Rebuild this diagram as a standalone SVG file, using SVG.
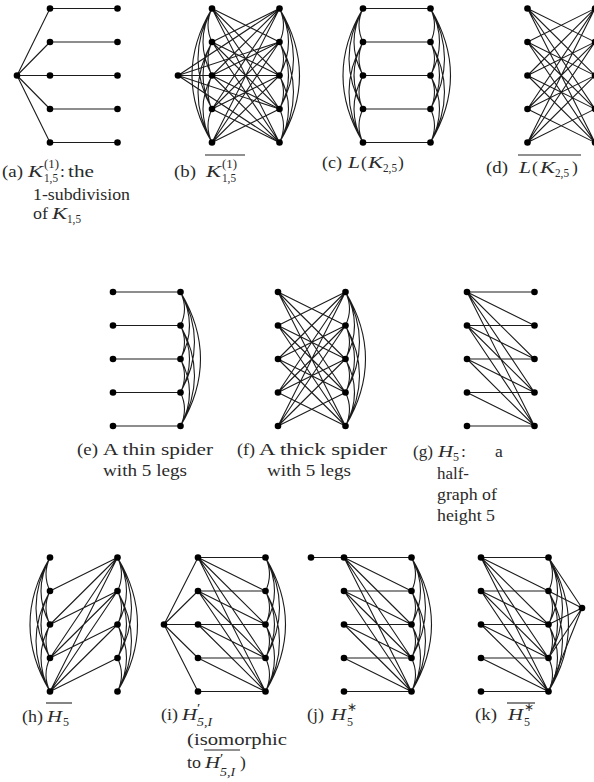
<svg xmlns="http://www.w3.org/2000/svg" xmlns:xlink="http://www.w3.org/1999/xlink" width="594" height="782" viewBox="0 0 594 782">
<style>
.e{fill:none;stroke:#1c1c1c;stroke-width:1.1}
.n{fill:#000}
.ov{stroke:#222;stroke-width:1.1}
text{font-family:"Liberation Serif","Times New Roman",serif;font-size:17.5px;fill:#2a2a2a}
.it{font-style:italic}
.s{font-size:12px}
.pr{font-size:12px;font-weight:bold}
</style>
<defs>
<path id="hor" class="e" d="M0 0H67.5M0 33.5H67.5M0 67H67.5M0 100.5H67.5M0 134H67.5"/>
<path id="cross" class="e" d="M0 0L67.5 33.5M0 0L67.5 67M0 0L67.5 100.5M0 0L67.5 134M0 33.5L67.5 0M0 33.5L67.5 67M0 33.5L67.5 100.5M0 33.5L67.5 134M0 67L67.5 0M0 67L67.5 33.5M0 67L67.5 100.5M0 67L67.5 134M0 100.5L67.5 0M0 100.5L67.5 33.5M0 100.5L67.5 67M0 100.5L67.5 134M0 134L67.5 0M0 134L67.5 33.5M0 134L67.5 67M0 134L67.5 100.5"/>
<path id="halfup" class="e" d="M0 0L67.5 33.5M0 0L67.5 67M0 0L67.5 100.5M0 0L67.5 134M0 33.5L67.5 67M0 33.5L67.5 100.5M0 33.5L67.5 134M0 67L67.5 100.5M0 67L67.5 134M0 100.5L67.5 134"/>
<path id="halflow" class="e" d="M0 33.5L67.5 0M0 67L67.5 0M0 67L67.5 33.5M0 100.5L67.5 0M0 100.5L67.5 33.5M0 100.5L67.5 67M0 134L67.5 0M0 134L67.5 33.5M0 134L67.5 67M0 134L67.5 100.5"/>
<path id="k5" class="e" d="M0 0Q8 16.75 0 33.5M0 33.5Q8 50.25 0 67M0 67Q8 83.75 0 100.5M0 100.5Q8 117.25 0 134M0 0Q18 33.5 0 67M0 33.5Q18 67 0 100.5M0 67Q18 100.5 0 134M0 0Q28 50.25 0 100.5M0 33.5Q28 83.75 0 134M0 0Q40 67 0 134"/>
</defs>

<!-- connectors -->
<g id="connectors">
<g id="a-edges"><use xlink:href="#hor" x="50" y="8.5"/><path class="e" d="M17 75.5L50 8.5M17 75.5L50 42M17 75.5L50 75.5M17 75.5L50 109M17 75.5L50 142.5"/></g>
<g id="b-edges"><use xlink:href="#cross" x="212" y="8.5"/><use xlink:href="#k5" transform="translate(212 8.5) scale(-1 1)"/><use xlink:href="#k5" transform="translate(279.5 8.5)"/><path class="e" d="M178 75.5L279.5 8.5M178 75.5L279.5 42M178 75.5L279.5 75.5M178 75.5L279.5 109M178 75.5L279.5 142.5"/></g>
<g id="c-edges"><use xlink:href="#hor" x="363" y="8.5"/><use xlink:href="#k5" transform="translate(363 8.5) scale(-1 1)"/><use xlink:href="#k5" transform="translate(430.5 8.5)"/></g>
<g id="d-edges"><use xlink:href="#cross" x="527.5" y="8.5"/></g>
<g id="e-edges"><use xlink:href="#hor" x="113" y="292"/><use xlink:href="#k5" transform="translate(180.5 292)"/></g>
<g id="f-edges"><use xlink:href="#cross" x="278" y="292"/><use xlink:href="#k5" transform="translate(345.5 292)"/></g>
<g id="g-edges"><use xlink:href="#hor" x="467" y="292"/><use xlink:href="#halfup" x="467" y="292"/></g>
<g id="h-edges"><use xlink:href="#halflow" x="50" y="557.5"/><use xlink:href="#k5" transform="translate(50 557.5) scale(-1 1)"/><use xlink:href="#k5" transform="translate(117.5 557.5)"/></g>
<g id="i-edges"><use xlink:href="#hor" x="198" y="557.5"/><use xlink:href="#halfup" x="198" y="557.5"/><use xlink:href="#k5" transform="translate(265.5 557.5)"/><path class="e" d="M164 624.5L198 557.5M164 624.5L198 591M164 624.5L198 624.5M164 624.5L198 658M164 624.5L198 691.5"/></g>
<g id="j-edges"><use xlink:href="#hor" x="344" y="557.5"/><use xlink:href="#halfup" x="344" y="557.5"/><use xlink:href="#k5" transform="translate(411.5 557.5)"/><path class="e" d="M311 557.5H344"/></g>
<g id="k-edges"><use xlink:href="#hor" x="481" y="557.5"/><use xlink:href="#halfup" x="481" y="557.5"/><use xlink:href="#k5" transform="translate(548.5 557.5)"/><path class="e" d="M582 608L548.5 557.5M582 608L548.5 591M582 608L548.5 624.5M582 608L548.5 658M582 608L548.5 691.5"/></g>
</g>

<!-- nodes -->
<g id="a-c"><circle class="n" cx="17" cy="75.5" r="3.3"/></g>
<g id="a-L1"><circle class="n" cx="50" cy="8.5" r="3.3"/></g>
<g id="a-L2"><circle class="n" cx="50" cy="42" r="3.3"/></g>
<g id="a-L3"><circle class="n" cx="50" cy="75.5" r="3.3"/></g>
<g id="a-L4"><circle class="n" cx="50" cy="109" r="3.3"/></g>
<g id="a-L5"><circle class="n" cx="50" cy="142.5" r="3.3"/></g>
<g id="a-R1"><circle class="n" cx="117.5" cy="8.5" r="3.3"/></g>
<g id="a-R2"><circle class="n" cx="117.5" cy="42" r="3.3"/></g>
<g id="a-R3"><circle class="n" cx="117.5" cy="75.5" r="3.3"/></g>
<g id="a-R4"><circle class="n" cx="117.5" cy="109" r="3.3"/></g>
<g id="a-R5"><circle class="n" cx="117.5" cy="142.5" r="3.3"/></g>

<g id="b-c"><circle class="n" cx="178" cy="75.5" r="3.3"/></g>
<g id="b-L1"><circle class="n" cx="212" cy="8.5" r="3.3"/></g>
<g id="b-L2"><circle class="n" cx="212" cy="42" r="3.3"/></g>
<g id="b-L3"><circle class="n" cx="212" cy="75.5" r="3.3"/></g>
<g id="b-L4"><circle class="n" cx="212" cy="109" r="3.3"/></g>
<g id="b-L5"><circle class="n" cx="212" cy="142.5" r="3.3"/></g>
<g id="b-R1"><circle class="n" cx="279.5" cy="8.5" r="3.3"/></g>
<g id="b-R2"><circle class="n" cx="279.5" cy="42" r="3.3"/></g>
<g id="b-R3"><circle class="n" cx="279.5" cy="75.5" r="3.3"/></g>
<g id="b-R4"><circle class="n" cx="279.5" cy="109" r="3.3"/></g>
<g id="b-R5"><circle class="n" cx="279.5" cy="142.5" r="3.3"/></g>

<g id="c-L1"><circle class="n" cx="363" cy="8.5" r="3.3"/></g>
<g id="c-L2"><circle class="n" cx="363" cy="42" r="3.3"/></g>
<g id="c-L3"><circle class="n" cx="363" cy="75.5" r="3.3"/></g>
<g id="c-L4"><circle class="n" cx="363" cy="109" r="3.3"/></g>
<g id="c-L5"><circle class="n" cx="363" cy="142.5" r="3.3"/></g>
<g id="c-R1"><circle class="n" cx="430.5" cy="8.5" r="3.3"/></g>
<g id="c-R2"><circle class="n" cx="430.5" cy="42" r="3.3"/></g>
<g id="c-R3"><circle class="n" cx="430.5" cy="75.5" r="3.3"/></g>
<g id="c-R4"><circle class="n" cx="430.5" cy="109" r="3.3"/></g>
<g id="c-R5"><circle class="n" cx="430.5" cy="142.5" r="3.3"/></g>

<g id="d-L1"><circle class="n" cx="527.5" cy="8.5" r="3.3"/></g>
<g id="d-L2"><circle class="n" cx="527.5" cy="42" r="3.3"/></g>
<g id="d-L3"><circle class="n" cx="527.5" cy="75.5" r="3.3"/></g>
<g id="d-L4"><circle class="n" cx="527.5" cy="109" r="3.3"/></g>
<g id="d-L5"><circle class="n" cx="527.5" cy="142.5" r="3.3"/></g>
<g id="d-R1"><circle class="n" cx="595" cy="8.5" r="3.3"/></g>
<g id="d-R2"><circle class="n" cx="595" cy="42" r="3.3"/></g>
<g id="d-R3"><circle class="n" cx="595" cy="75.5" r="3.3"/></g>
<g id="d-R4"><circle class="n" cx="595" cy="109" r="3.3"/></g>
<g id="d-R5"><circle class="n" cx="595" cy="142.5" r="3.3"/></g>

<g id="e-L1"><circle class="n" cx="113" cy="292" r="3.3"/></g>
<g id="e-L2"><circle class="n" cx="113" cy="325.5" r="3.3"/></g>
<g id="e-L3"><circle class="n" cx="113" cy="359" r="3.3"/></g>
<g id="e-L4"><circle class="n" cx="113" cy="392.5" r="3.3"/></g>
<g id="e-L5"><circle class="n" cx="113" cy="426" r="3.3"/></g>
<g id="e-R1"><circle class="n" cx="180.5" cy="292" r="3.3"/></g>
<g id="e-R2"><circle class="n" cx="180.5" cy="325.5" r="3.3"/></g>
<g id="e-R3"><circle class="n" cx="180.5" cy="359" r="3.3"/></g>
<g id="e-R4"><circle class="n" cx="180.5" cy="392.5" r="3.3"/></g>
<g id="e-R5"><circle class="n" cx="180.5" cy="426" r="3.3"/></g>

<g id="f-L1"><circle class="n" cx="278" cy="292" r="3.3"/></g>
<g id="f-L2"><circle class="n" cx="278" cy="325.5" r="3.3"/></g>
<g id="f-L3"><circle class="n" cx="278" cy="359" r="3.3"/></g>
<g id="f-L4"><circle class="n" cx="278" cy="392.5" r="3.3"/></g>
<g id="f-L5"><circle class="n" cx="278" cy="426" r="3.3"/></g>
<g id="f-R1"><circle class="n" cx="345.5" cy="292" r="3.3"/></g>
<g id="f-R2"><circle class="n" cx="345.5" cy="325.5" r="3.3"/></g>
<g id="f-R3"><circle class="n" cx="345.5" cy="359" r="3.3"/></g>
<g id="f-R4"><circle class="n" cx="345.5" cy="392.5" r="3.3"/></g>
<g id="f-R5"><circle class="n" cx="345.5" cy="426" r="3.3"/></g>

<g id="g-L1"><circle class="n" cx="467" cy="292" r="3.3"/></g>
<g id="g-L2"><circle class="n" cx="467" cy="325.5" r="3.3"/></g>
<g id="g-L3"><circle class="n" cx="467" cy="359" r="3.3"/></g>
<g id="g-L4"><circle class="n" cx="467" cy="392.5" r="3.3"/></g>
<g id="g-L5"><circle class="n" cx="467" cy="426" r="3.3"/></g>
<g id="g-R1"><circle class="n" cx="534.5" cy="292" r="3.3"/></g>
<g id="g-R2"><circle class="n" cx="534.5" cy="325.5" r="3.3"/></g>
<g id="g-R3"><circle class="n" cx="534.5" cy="359" r="3.3"/></g>
<g id="g-R4"><circle class="n" cx="534.5" cy="392.5" r="3.3"/></g>
<g id="g-R5"><circle class="n" cx="534.5" cy="426" r="3.3"/></g>

<g id="h-L1"><circle class="n" cx="50" cy="557.5" r="3.3"/></g>
<g id="h-L2"><circle class="n" cx="50" cy="591" r="3.3"/></g>
<g id="h-L3"><circle class="n" cx="50" cy="624.5" r="3.3"/></g>
<g id="h-L4"><circle class="n" cx="50" cy="658" r="3.3"/></g>
<g id="h-L5"><circle class="n" cx="50" cy="691.5" r="3.3"/></g>
<g id="h-R1"><circle class="n" cx="117.5" cy="557.5" r="3.3"/></g>
<g id="h-R2"><circle class="n" cx="117.5" cy="591" r="3.3"/></g>
<g id="h-R3"><circle class="n" cx="117.5" cy="624.5" r="3.3"/></g>
<g id="h-R4"><circle class="n" cx="117.5" cy="658" r="3.3"/></g>
<g id="h-R5"><circle class="n" cx="117.5" cy="691.5" r="3.3"/></g>

<g id="i-c"><circle class="n" cx="164" cy="624.5" r="3.3"/></g>
<g id="i-L1"><circle class="n" cx="198" cy="557.5" r="3.3"/></g>
<g id="i-L2"><circle class="n" cx="198" cy="591" r="3.3"/></g>
<g id="i-L3"><circle class="n" cx="198" cy="624.5" r="3.3"/></g>
<g id="i-L4"><circle class="n" cx="198" cy="658" r="3.3"/></g>
<g id="i-L5"><circle class="n" cx="198" cy="691.5" r="3.3"/></g>
<g id="i-R1"><circle class="n" cx="265.5" cy="557.5" r="3.3"/></g>
<g id="i-R2"><circle class="n" cx="265.5" cy="591" r="3.3"/></g>
<g id="i-R3"><circle class="n" cx="265.5" cy="624.5" r="3.3"/></g>
<g id="i-R4"><circle class="n" cx="265.5" cy="658" r="3.3"/></g>
<g id="i-R5"><circle class="n" cx="265.5" cy="691.5" r="3.3"/></g>

<g id="j-p"><circle class="n" cx="311" cy="557.5" r="3.3"/></g>
<g id="j-L1"><circle class="n" cx="344" cy="557.5" r="3.3"/></g>
<g id="j-L2"><circle class="n" cx="344" cy="591" r="3.3"/></g>
<g id="j-L3"><circle class="n" cx="344" cy="624.5" r="3.3"/></g>
<g id="j-L4"><circle class="n" cx="344" cy="658" r="3.3"/></g>
<g id="j-L5"><circle class="n" cx="344" cy="691.5" r="3.3"/></g>
<g id="j-R1"><circle class="n" cx="411.5" cy="557.5" r="3.3"/></g>
<g id="j-R2"><circle class="n" cx="411.5" cy="591" r="3.3"/></g>
<g id="j-R3"><circle class="n" cx="411.5" cy="624.5" r="3.3"/></g>
<g id="j-R4"><circle class="n" cx="411.5" cy="658" r="3.3"/></g>
<g id="j-R5"><circle class="n" cx="411.5" cy="691.5" r="3.3"/></g>

<g id="k-L1"><circle class="n" cx="481" cy="557.5" r="3.3"/></g>
<g id="k-L2"><circle class="n" cx="481" cy="591" r="3.3"/></g>
<g id="k-L3"><circle class="n" cx="481" cy="624.5" r="3.3"/></g>
<g id="k-L4"><circle class="n" cx="481" cy="658" r="3.3"/></g>
<g id="k-L5"><circle class="n" cx="481" cy="691.5" r="3.3"/></g>
<g id="k-R1"><circle class="n" cx="548.5" cy="557.5" r="3.3"/></g>
<g id="k-R2"><circle class="n" cx="548.5" cy="591" r="3.3"/></g>
<g id="k-R3"><circle class="n" cx="548.5" cy="624.5" r="3.3"/></g>
<g id="k-R4"><circle class="n" cx="548.5" cy="658" r="3.3"/></g>
<g id="k-R5"><circle class="n" cx="548.5" cy="691.5" r="3.3"/></g>
<g id="k-q"><circle class="n" cx="582" cy="608" r="3.3"/></g>

<!-- captions -->
<g id="cap-a">
<text x="2" y="177" textLength="21" lengthAdjust="spacingAndGlyphs">(a)</text>
<text class="it" x="28" y="177" textLength="15" lengthAdjust="spacingAndGlyphs">K</text>
<text class="s" x="44" y="168" textLength="15" lengthAdjust="spacingAndGlyphs">(1)</text>
<text class="s" x="44" y="181.5" textLength="14" lengthAdjust="spacingAndGlyphs">1,5</text>
<text x="60" y="177">:</text>
<text x="68" y="177" textLength="26" lengthAdjust="spacingAndGlyphs">the</text>
<text x="33" y="200" textLength="97" lengthAdjust="spacingAndGlyphs">1-subdivision</text>
<text x="33" y="219" textLength="15" lengthAdjust="spacingAndGlyphs">of</text>
<text class="it" x="52" y="219" textLength="15" lengthAdjust="spacingAndGlyphs">K</text>
<text class="s" x="67" y="223" textLength="14" lengthAdjust="spacingAndGlyphs">1,5</text>
</g>
<g id="cap-b">
<text x="174" y="177" textLength="22" lengthAdjust="spacingAndGlyphs">(b)</text>
<line class="ov" x1="205" y1="155" x2="245" y2="155"/>
<text class="it" x="206" y="177" textLength="15" lengthAdjust="spacingAndGlyphs">K</text>
<text class="s" x="222" y="168" textLength="15" lengthAdjust="spacingAndGlyphs">(1)</text>
<text class="s" x="222" y="181.5" textLength="14" lengthAdjust="spacingAndGlyphs">1,5</text>
</g>
<g id="cap-c">
<text x="322" y="168" textLength="20" lengthAdjust="spacingAndGlyphs">(c)</text>
<text class="it" x="348" y="168" textLength="12" lengthAdjust="spacingAndGlyphs">L</text>
<text x="361" y="168">(</text>
<text class="it" x="368" y="168" textLength="15" lengthAdjust="spacingAndGlyphs">K</text>
<text class="s" x="383" y="172" textLength="14" lengthAdjust="spacingAndGlyphs">2,5</text>
<text x="398" y="168">)</text>
</g>
<g id="cap-d">
<text x="486" y="173" textLength="22" lengthAdjust="spacingAndGlyphs">(d)</text>
<line class="ov" x1="518" y1="155" x2="581" y2="155"/>
<text class="it" x="519" y="173" textLength="12" lengthAdjust="spacingAndGlyphs">L</text>
<text x="532" y="173">(</text>
<text class="it" x="540" y="173" textLength="15" lengthAdjust="spacingAndGlyphs">K</text>
<text class="s" x="555" y="177" textLength="14" lengthAdjust="spacingAndGlyphs">2,5</text>
<text x="572" y="173">)</text>
</g>
<g id="cap-e">
<text x="77" y="455" textLength="21" lengthAdjust="spacingAndGlyphs">(e)</text>
<text x="103" y="455" textLength="110" lengthAdjust="spacingAndGlyphs">A thin spider</text>
<text x="103" y="476" textLength="84" lengthAdjust="spacingAndGlyphs">with 5 legs</text>
</g>
<g id="cap-f">
<text x="237" y="455" textLength="18" lengthAdjust="spacingAndGlyphs">(f)</text>
<text x="259" y="455" textLength="128" lengthAdjust="spacingAndGlyphs">A thick spider</text>
<text x="267" y="476" textLength="84" lengthAdjust="spacingAndGlyphs">with 5 legs</text>
</g>
<g id="cap-g">
<text x="413" y="457" textLength="20" lengthAdjust="spacingAndGlyphs">(g)</text>
<text class="it" x="438" y="457" textLength="15" lengthAdjust="spacingAndGlyphs">H</text>
<text class="s" x="453" y="461">5</text>
<text x="461" y="457">:</text>
<text x="495" y="457">a</text>
<text x="437" y="479" textLength="32" lengthAdjust="spacingAndGlyphs">half-</text>
<text x="437" y="500" textLength="60" lengthAdjust="spacingAndGlyphs">graph of</text>
<text x="437" y="521" textLength="58" lengthAdjust="spacingAndGlyphs">height 5</text>
</g>
<g id="cap-h">
<text x="22" y="722" textLength="21" lengthAdjust="spacingAndGlyphs">(h)</text>
<line class="ov" x1="46" y1="703" x2="72" y2="703"/>
<text class="it" x="47" y="722" textLength="15" lengthAdjust="spacingAndGlyphs">H</text>
<text class="s" x="63" y="726">5</text>
</g>
<g id="cap-i">
<text x="161" y="720" textLength="17" lengthAdjust="spacingAndGlyphs">(i)</text>
<text class="it" x="182" y="720" textLength="15" lengthAdjust="spacingAndGlyphs">H</text>
<text class="pr" x="197" y="712">′</text>
<text class="s it" x="197" y="726" textLength="15" lengthAdjust="spacingAndGlyphs">5,I</text>
<text x="187" y="745" textLength="100" lengthAdjust="spacingAndGlyphs">(isomorphic</text>
<text x="187" y="768" textLength="14" lengthAdjust="spacingAndGlyphs">to</text>
<line class="ov" x1="204" y1="750" x2="240" y2="750"/>
<text class="it" x="205" y="768" textLength="15" lengthAdjust="spacingAndGlyphs">H</text>
<text class="pr" x="220" y="761.5">′</text>
<text class="s it" x="220" y="776" textLength="15" lengthAdjust="spacingAndGlyphs">5,I</text>
<text x="240" y="768">)</text>
</g>
<g id="cap-j">
<text x="307" y="720" textLength="17" lengthAdjust="spacingAndGlyphs">(j)</text>
<text class="it" x="331" y="720" textLength="15" lengthAdjust="spacingAndGlyphs">H</text>
<text class="s" x="347" y="711">∗</text>
<text class="s" x="347" y="726">5</text>
</g>
<g id="cap-k">
<text x="475" y="720" textLength="22" lengthAdjust="spacingAndGlyphs">(k)</text>
<line class="ov" x1="507" y1="703" x2="535" y2="703"/>
<text class="it" x="508" y="720" textLength="15" lengthAdjust="spacingAndGlyphs">H</text>
<text class="s" x="524" y="711">∗</text>
<text class="s" x="524" y="726">5</text>
</g>
</svg>
